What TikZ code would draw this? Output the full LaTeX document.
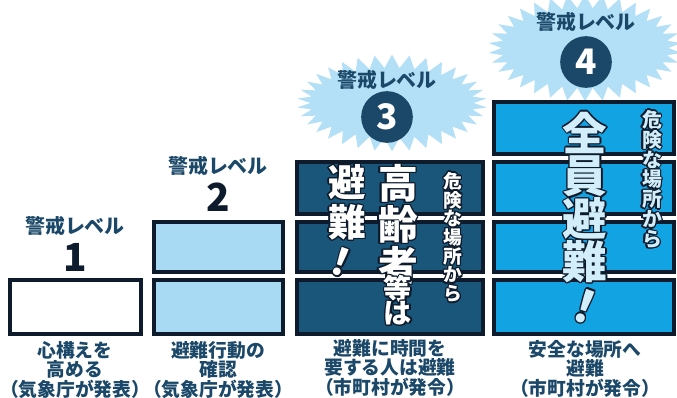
\documentclass[tikz,border=0pt]{standalone}
\usepackage{fontspec}
\setmainfont{Noto Sans CJK JP}[BoldFont={Noto Sans CJK JP Black}]
\usepackage{tikz}
\usetikzlibrary{positioning,shapes.symbols}
\usepackage{contour}
\contourlength{1.1pt}
\contournumber{12}
\definecolor{edge}{HTML}{0E1B2C}
\definecolor{pale}{HTML}{A8DAF3}
\definecolor{navy}{HTML}{1A5679}
\definecolor{sky}{HTML}{12A3E3}
\definecolor{starblue}{HTML}{B3E0F6}
\definecolor{ink}{HTML}{1B4868}
\definecolor{ice}{HTML}{D2EEFA}
\makeatletter
\newcommand{\tate}[2]{\vbox{\baselineskip=#1\lineskiplimit=-\maxdimen
  \@tfor\tch:=#2\do{\hbox to 1em{\hss\contour{edge}{\tch}\hss}}}}
\makeatother
\tikzstyle{cell} = [draw=edge, line width=3.4pt, rectangle, inner sep=0pt]
\tikzstyle{head} = [text=ink, font=\bfseries\fontsize{17}{17}\selectfont]
\tikzstyle{num} = [text=edge, font=\bfseries\fontsize{33}{33}\selectfont]
\tikzstyle{badge} = [circle, fill=ink, text=white, minimum size=1.55cm, inner sep=0pt, font=\bfseries\fontsize{30}{30}\selectfont]
\tikzstyle{burst} = [starburst, starburst points=34, starburst point height=0.4cm, random starburst=0, fill=starblue, inner sep=0pt]
\tikzstyle{note} = [text=ink, align=center, font=\bfseries\fontsize{16}{15}\selectfont]
\tikzstyle{big} = [text=white, font=\bfseries\fontsize{32}{32}\selectfont]

\begin{document}
\begin{tikzpicture}[x=0.03cm, y=-0.03cm]
	\useasboundingbox (0,0) rectangle (677,398);
	% level 1
	\node (c1d) [cell, fill=white, minimum width=3.93cm, minimum height=1.62cm] at (75.5,307) {};
	\node (lab1) [head] at (75,226) {警戒レベル};
	\node (num1) [num, below of=lab1, node distance=0.93cm] {1};
	% level 2
	\node (c2c) [cell, fill=pale, minimum width=3.87cm, minimum height=1.5cm] at (218.5,247) {};
	\node (c2d) [cell, fill=pale, minimum width=3.87cm, minimum height=1.62cm] at (218.5,307) {};
	\node (lab2) [head] at (218,166) {警戒レベル};
	\node (num2) [num, below of=lab2, node distance=0.93cm] {2};
	% level 3
	\node (star3) [burst, minimum width=5.7cm, minimum height=2.9cm] at (392,103) {};
	\node (lab3) [head] at (387,80) {警戒レベル};
	\node (num3) [badge, below of=lab3, node distance=1.11cm] {3};
	\node (c3b) [cell, fill=navy, minimum width=5.58cm, minimum height=1.56cm] at (390,188) {};
	\node (c3c) [cell, fill=navy, minimum width=5.58cm, minimum height=1.5cm] at (390,247) {};
	\node (c3d) [cell, fill=navy, minimum width=5.58cm, minimum height=1.62cm] at (390,307) {};
	\node (hinan3) [big] at (347,203) {\tate{34pt}{避難}};
	\node (bang3) [big, rotate=-20] at (341,263) {\contour{edge}{！}};
	\node (elder) [big, font=\bfseries\fontsize{34}{34}\selectfont] at (398,225) {\tate{35pt}{高齢者}};
	\node (etc) [big, font=\bfseries\fontsize{24}{24}\selectfont] at (398,301) {\tate{20pt}{等は}};
	\node (from3) [text=white, font=\bfseries\fontsize{16}{16}\selectfont] at (453,238) {\tate{16pt}{危険な場所から}};
	% level 4
	\node (star4) [burst, minimum width=5.8cm, minimum height=3.2cm] at (585,48) {};
	\node (lab4) [head] at (586,22) {警戒レベル};
	\node (num4) [badge, below of=lab4, node distance=1.2cm] {4};
	\node (c4a) [cell, fill=sky, minimum width=5.4cm, minimum height=1.56cm] at (584,128) {};
	\node (c4b) [cell, fill=sky, minimum width=5.4cm, minimum height=1.56cm] at (584,188) {};
	\node (c4c) [cell, fill=sky, minimum width=5.4cm, minimum height=1.5cm] at (584,247) {};
	\node (c4d) [cell, fill=sky, minimum width=5.4cm, minimum height=1.62cm] at (584,307) {};
	\node (all4) [big, text=ice, font=\bfseries\fontsize{38}{38}\selectfont] at (585,198) {\tate{36.5pt}{全員避難}};
	\node (bang4) [big, text=ice, rotate=-20, font=\bfseries\fontsize{38}{38}\selectfont] at (585,307) {\contour{edge}{！}};
	\node (from4) [text=ice, font=\bfseries\fontsize{17}{17}\selectfont] at (652,180) {\tate{17pt}{危険な場所から}};
	% notes
	\node (n1) [note] at (75,370) {心構えを\\高める\\（気象庁が発表）};
	\node (n2) [note] at (218,370) {避難行動の\\確認\\（気象庁が発表）};
	\node (n3) [note] at (390,368) {避難に時間を\\要する人は避難\\（市町村が発令）};
	\node (n4) [note] at (585,369) {安全な場所へ\\避難\\（市町村が発令）};
\end{tikzpicture}
\end{document}
